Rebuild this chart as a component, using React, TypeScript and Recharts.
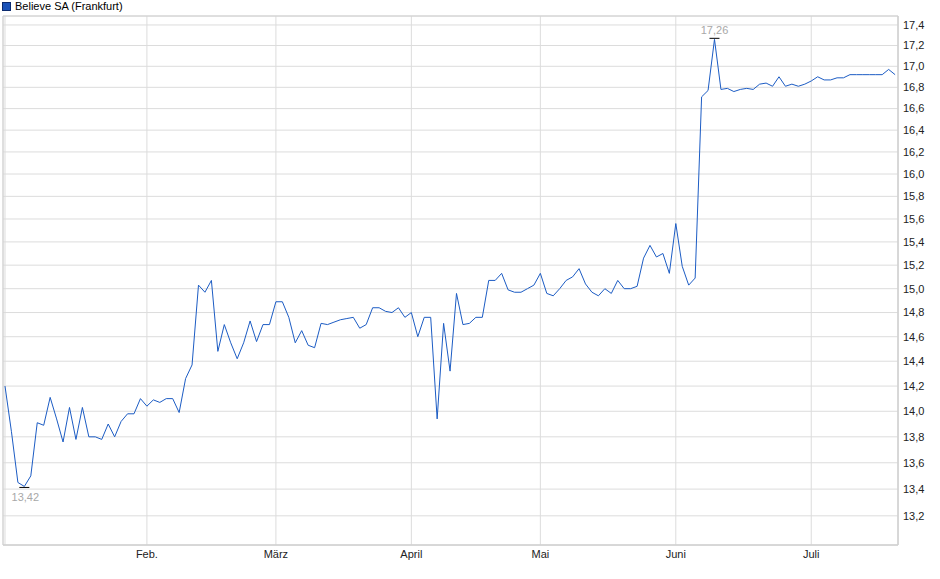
import React from 'react';
import {
  LineChart,
  Line,
  XAxis,
  YAxis,
  CartesianGrid,
  ReferenceArea,
} from 'recharts';

// Closing prices per trading day, grouped by month
const janPrices = [14.2, 13.84, 13.45, 13.42, 13.5, 13.91, 13.89, 14.11, 13.94, 13.76, 14.03, 13.78, 14.03, 13.8, 13.8, 13.78, 13.9, 13.8, 13.92, 13.98, 13.98, 14.1];
const febPrices = [14.04, 14.09, 14.07, 14.1, 14.1, 13.99, 14.26, 14.37, 15.03, 14.97, 15.07, 14.48, 14.7, 14.55, 14.42, 14.55, 14.73, 14.56, 14.7, 14.7];
const marPrices = [14.89, 14.89, 14.76, 14.55, 14.65, 14.53, 14.51, 14.71, 14.7, 14.72, 14.74, 14.75, 14.76, 14.67, 14.7, 14.84, 14.84, 14.81, 14.8, 14.84, 14.76];
const aprPrices = [14.8, 14.6, 14.76, 14.76, 13.94, 14.71, 14.32, 14.96, 14.7, 14.71, 14.76, 14.76, 15.07, 15.07, 15.13, 14.99, 14.97, 14.97, 15.0, 15.03];
const mayPrices = [15.13, 14.96, 14.94, 15.0, 15.07, 15.1, 15.17, 15.04, 14.97, 14.94, 15.0, 14.96, 15.07, 15.0, 15.0, 15.02, 15.26, 15.37, 15.27, 15.3, 15.13];
const junPrices = [15.56, 15.19, 15.03, 15.09, 16.71, 16.77, 17.26, 16.78, 16.79, 16.76, 16.78, 16.79, 16.78, 16.83, 16.84, 16.81, 16.9, 16.81, 16.83, 16.81, 16.83];
const julPrices = [16.86, 16.9, 16.87, 16.87, 16.89, 16.89, 16.92, 16.92, 16.92, 16.92, 16.92, 16.92, 16.97, 16.92];

// Month tick positions (trading-day index of first day of month) and labels
const monthTickIndex = [0, 22, 42, 63, 83, 104, 125];
const monthLabels = ['', 'Feb.', 'März', 'April', 'Mai', 'Juni', 'Juli'];

// Price axis ticks
const priceTicks = [13.2, 13.4, 13.6, 13.8, 14.0, 14.2, 14.4, 14.6, 14.8, 15.0, 15.2, 15.4, 15.6, 15.8, 16.0, 16.2, 16.4, 16.6, 16.8, 17.0, 17.2, 17.4];

const seriesName = 'Believe SA (Frankfurt)';

const allPrices = [...janPrices, ...febPrices, ...marPrices, ...aprPrices, ...mayPrices, ...junPrices, ...julPrices];
const rows = allPrices.map((price, i) => ({ i, price }));

const maxVal = Math.max(...allPrices);
const minVal = Math.min(...allPrices);
const maxIdx = allPrices.indexOf(maxVal);
const minIdx = allPrices.indexOf(minVal);

const X_DOMAIN: [number, number] = [-0.31, 138.45];
const Y_DOMAIN: [number, number] = [12.985, 17.488];

const FONT = '"Liberation Sans", Arial, sans-serif';
const fmt = (v: number, d: number) => v.toFixed(d).replace('.', ',');

const renderDot = (props: any) => {
  const { cx, cy, index } = props;
  if (index === maxIdx) {
    return (
      <g key={`d${index}`}>
        <line x1={cx - 5} x2={cx + 5} y1={cy - 1} y2={cy - 1} stroke="#000" strokeWidth={1} />
        <text x={cx} y={cy - 5} textAnchor="middle" fill="#a8a8a8" fontSize={11} fontFamily={FONT}>
          {fmt(maxVal, 2)}
        </text>
      </g>
    );
  }
  if (index === minIdx) {
    return (
      <g key={`d${index}`}>
        <line x1={cx - 5} x2={cx + 5} y1={cy + 1} y2={cy + 1} stroke="#000" strokeWidth={1} />
        <text x={cx + 1} y={cy + 15} textAnchor="middle" fill="#a8a8a8" fontSize={11} fontFamily={FONT}>
          {fmt(minVal, 2)}
        </text>
      </g>
    );
  }
  return <g key={`d${index}`} />;
};

export default function App() {
  return (
    <div style={{ position: 'absolute', left: 0, top: 0, width: 940, height: 579, background: '#fff', fontFamily: FONT }}>
      <div style={{ position: 'absolute', left: 2, top: 2, width: 7, height: 7, background: '#1a52b8', border: '1px solid #0b2a6e' }} />
      <div style={{ position: 'absolute', left: 15, top: 0, fontSize: 11, lineHeight: '13px', color: '#000' }}>{seriesName}</div>
      <LineChart width={940} height={579} data={rows} margin={{ top: 16, right: 0, bottom: 0, left: 3 }}>
        <CartesianGrid stroke="#dcdcdc" strokeWidth={1} verticalPoints={undefined} />
        <ReferenceArea
          x1={X_DOMAIN[0]}
          x2={X_DOMAIN[1]}
          y1={Y_DOMAIN[0]}
          y2={Y_DOMAIN[1]}
          fill="none"
          fillOpacity={0}
          stroke="#d0d0d0"
          strokeWidth={1}
        />
        <XAxis
          dataKey="i"
          type="number"
          domain={X_DOMAIN}
          allowDataOverflow
          ticks={monthTickIndex}
          tickFormatter={(v: number) => monthLabels[monthTickIndex.indexOf(v)] ?? ''}
          tickLine={false}
          tickSize={0}
          tickMargin={5}
          axisLine={{ stroke: '#d0d0d0' }}
          height={34}
          interval={0}
          tick={{ fontSize: 11, fill: '#222', fontFamily: FONT }}
        />
        <YAxis
          orientation="right"
          scale="log"
          domain={Y_DOMAIN}
          allowDataOverflow
          ticks={priceTicks}
          interval={0}
          tickFormatter={(v: number) => fmt(v, 1)}
          tickLine={false}
          tickSize={3}
          tickMargin={2}
          axisLine={{ stroke: '#d0d0d0' }}
          width={42}
          tick={{ fontSize: 11, fill: '#222', fontFamily: FONT }}
        />
        <Line
          type="linear"
          dataKey="price"
          stroke="#1c5cc4"
          strokeWidth={1}
          dot={renderDot}
          activeDot={false}
          isAnimationActive={false}
        />
      </LineChart>
    </div>
  );
}
